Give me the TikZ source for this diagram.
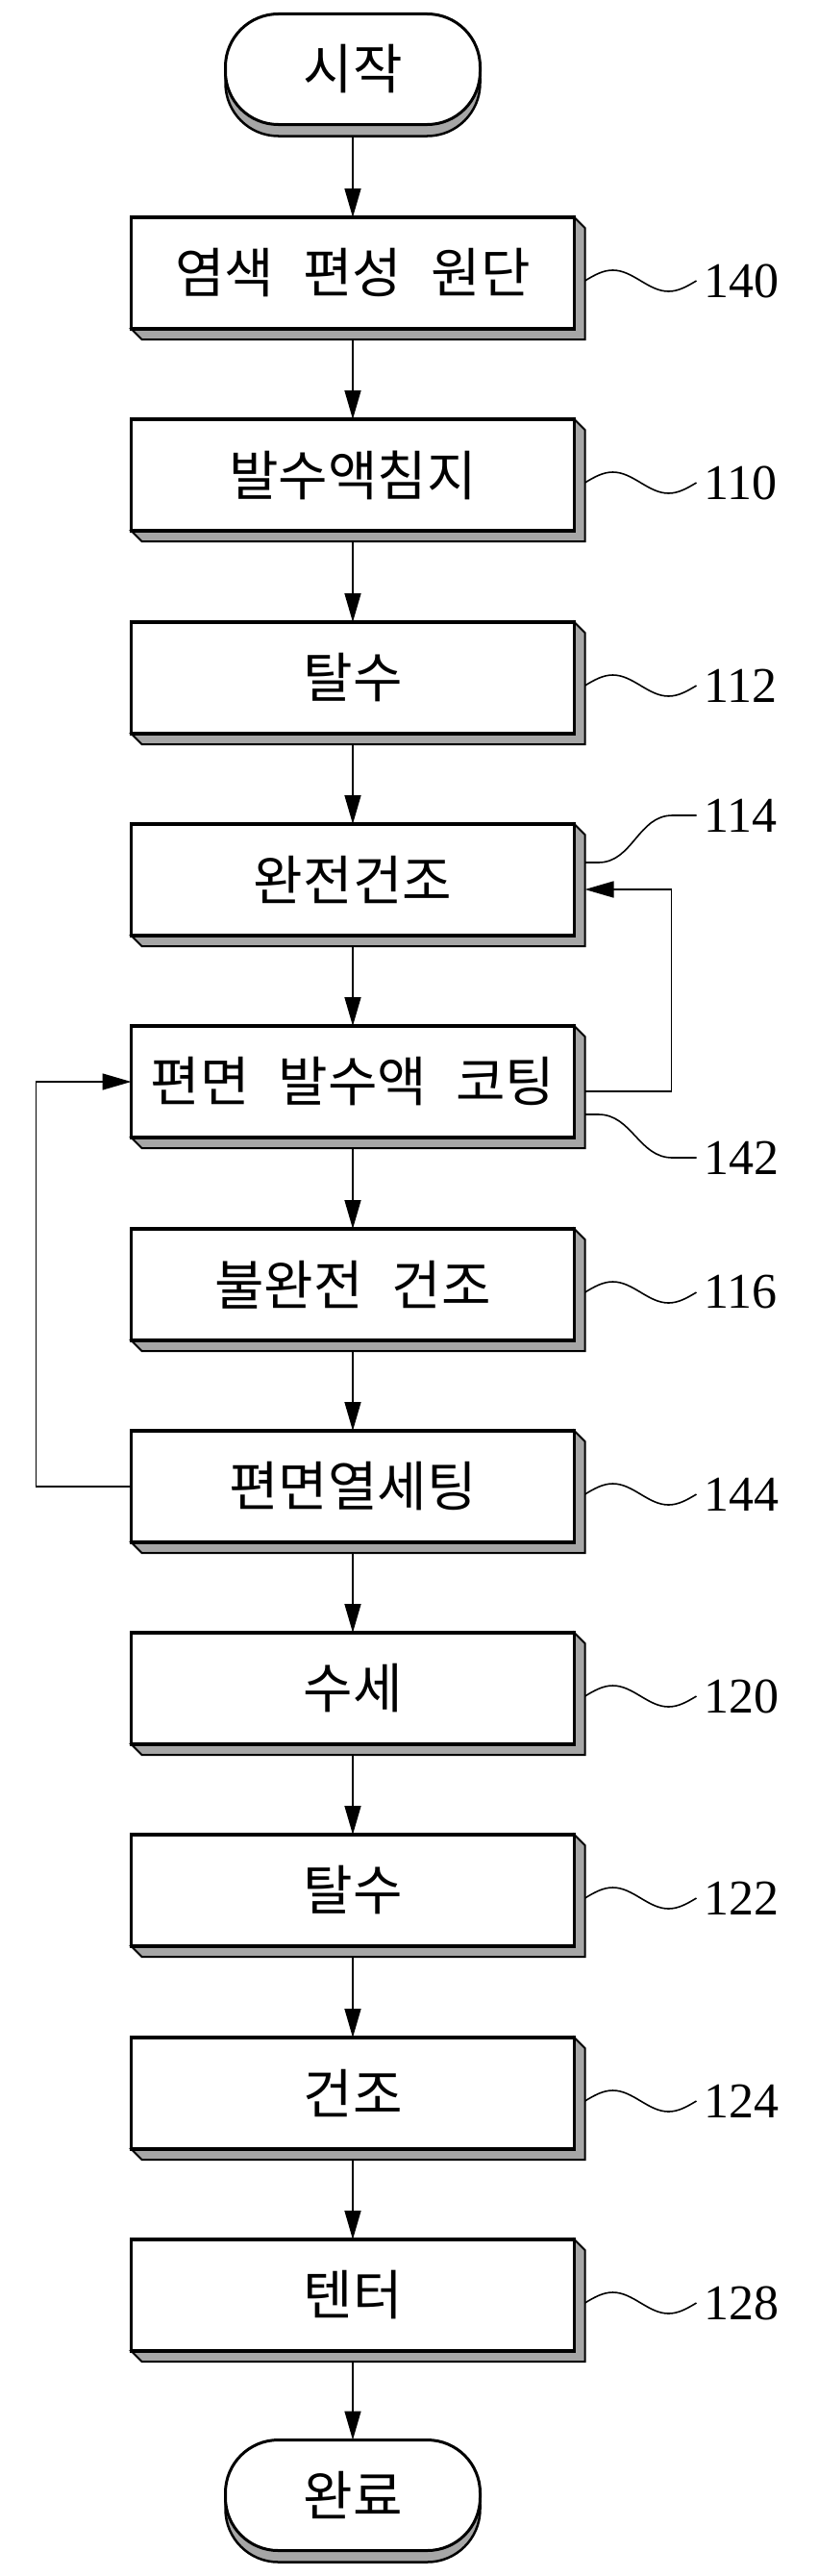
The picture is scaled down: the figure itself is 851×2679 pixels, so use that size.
\documentclass[tikz,border=0pt]{standalone}
\usepackage{fontspec}
\newfontfamily\kr{Noto Sans CJK KR}
\newfontfamily\numfont{Liberation Serif}
\usetikzlibrary{calc,backgrounds,shadows,arrows.meta}
\newcommand\ws{\hspace{30pt}}
\begin{document}
\begin{tikzpicture}[x=1pt,y=-1pt,
  stepbox/.style={draw, line width=3.5pt, fill=white, minimum width=461pt, minimum height=116pt,
    outer sep=0pt, inner sep=0pt, font=\kr\fontsize{56}{64}\selectfont},
  term/.style={draw, line width=3pt, fill=white, rounded corners=55pt, minimum width=265pt,
    minimum height=115pt, outer sep=0pt, inner sep=0pt, font=\kr\fontsize{56}{64}\selectfont,
    copy shadow={shadow xshift=0pt, shadow yshift=-12pt, fill=black!35, draw=black, line width=2.5pt}},
  shadowbox/.style={fill=black!35, draw=black, line width=2pt, line join=miter},
  arr/.style={line width=1.6pt, -{Triangle[length=30pt,width=17pt]}},
  leader/.style={line width=1.6pt},
  lab/.style={font=\numfont\fontsize{52}{60}\selectfont, anchor=west, inner ysep=0pt, inner xsep=8pt, outer sep=0pt}
]
\useasboundingbox (0,0) rectangle (851,2679);

\node[term] (t0) at (367,72) {시작};
\node[stepbox] (b1) at (367,284) {염색\ws 편성\ws 원단};
\node[stepbox] (b2) at (367,494) {발수액침지};
\node[stepbox] (b3) at (367,705) {탈수};
\node[stepbox] (b4) at (367,915) {완전건조};
\node[stepbox] (b5) at (367,1125) {편면\ws 발수액\ws 코팅};
\node[stepbox] (b6) at (367,1336) {불완전\ws 건조};
\node[stepbox] (b7) at (367,1546) {편면열세팅};
\node[stepbox] (b8) at (367,1756) {수세};
\node[stepbox] (b9) at (367,1966) {탈수};
\node[stepbox] (b10) at (367,2177) {건조};
\node[stepbox] (b11) at (367,2387) {텐터};
\node[term] (t1) at (367,2595) {완료};

\begin{scope}[on background layer]
\foreach \b in {b1,b2,b3,b4,b5,b6,b7,b8,b9,b10,b11}{
  \filldraw[shadowbox] (\b.south west) -- ++(11,11) -| ($(\b.north east)+(11,11)$)
    -- (\b.north east) -- (\b.south east) -- cycle;
}
\end{scope}

% vertical arrows
\draw[arr] ($(t0.south)+(0,12)$) -- (b1.north);
\draw[arr] ($(b1.south)+(0,11)$) -- (b2.north);
\draw[arr] ($(b2.south)+(0,11)$) -- (b3.north);
\draw[arr] ($(b3.south)+(0,11)$) -- (b4.north);
\draw[arr] ($(b4.south)+(0,11)$) -- (b5.north);
\draw[arr] ($(b5.south)+(0,11)$) -- (b6.north);
\draw[arr] ($(b6.south)+(0,11)$) -- (b7.north);
\draw[arr] ($(b7.south)+(0,11)$) -- (b8.north);
\draw[arr] ($(b8.south)+(0,11)$) -- (b9.north);
\draw[arr] ($(b9.south)+(0,11)$) -- (b10.north);
\draw[arr] ($(b10.south)+(0,11)$) -- (b11.north);
\draw[arr] ($(b11.south)+(0,11)$) -- (t1.north);

% loops
\draw[arr] ($(b5.east)+(11,10)$) -- ++(90,0) |- ($(b4.east)+(11,10)$);
\draw[arr] (b7.west) -- ++(-99,0) |- (b5.west);

% tilde labels
\foreach \b/\t in {b1/140,b2/110,b3/112,b6/116,b7/144,b8/120,b9/122,b10/124,b11/128}{
  \node[lab] (l\t) at ($(\b.east)+(127,8)$) {\t};
  \draw[leader] ($(\b.east)+(11,8)$) sin ++(29,-11) cos ++(29,11) sin ++(29,11) cos (l\t.west);
}
% special labels
\node[lab] (l114) at ($(b4.east)+(127,-67)$) {114};
\draw[leader] ($(b4.east)+(11,-18)$) -- ++(14,0) to[out=0,in=180] ($(l114.west)+(-25,0)$) -- (l114.west);
\node[lab] (l142) at ($(b5.east)+(127,79)$) {142};
\draw[leader] ($(b5.east)+(11,34)$) -- ++(14,0) to[out=0,in=180] ($(l142.west)+(-25,0)$) -- (l142.west);
\end{tikzpicture}
\end{document}
